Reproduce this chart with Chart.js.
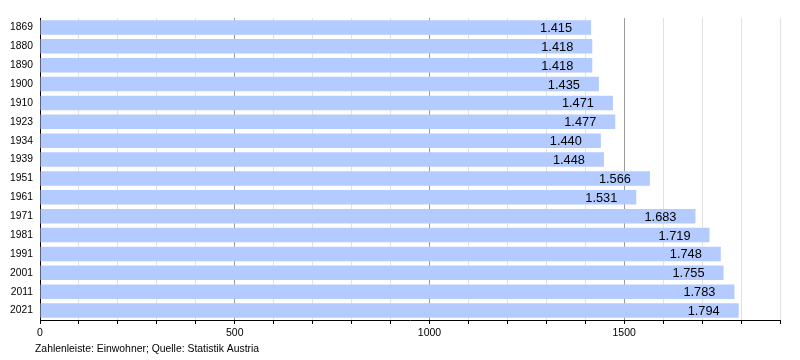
<!DOCTYPE html>
<html>
<head>
<meta charset="utf-8">
<script src="https://cdn.jsdelivr.net/npm/chart.js@4/dist/chart.umd.min.js"></script>
<style>
html,body{margin:0;padding:0;background:#fff;}
#wrap{position:relative;width:800px;height:360px;}
</style>
</head>
<body>
<div id="wrap"><canvas id="c" width="800" height="360"></canvas></div>
<script>
const years = ['1869','1880','1890','1900','1910','1923','1934','1939','1951','1961','1971','1981','1991','2001','2011','2021'];
const population = [1415,1418,1418,1435,1471,1477,1440,1448,1566,1531,1683,1719,1748,1755,1783,1794];
const caption = 'Zahlenleiste: Einwohner; Quelle: Statistik Austria';

function fmt(v){
  const s = String(Math.round(v));
  return s.replace(/\B(?=(\d{3})+(?!\d))/g, '.');
}

const valueLabels = {
  id: 'valueLabels',
  afterDatasetsDraw(chart){
    const ctx = chart.ctx;
    const meta = chart.getDatasetMeta(0);
    ctx.save();
    ctx.font = '12.8px "Liberation Sans", Arial, sans-serif';
    ctx.fillStyle = '#000';
    ctx.textAlign = 'right';
    ctx.textBaseline = 'middle';
    meta.data.forEach((bar, i) => {
      ctx.fillText(fmt(population[i]), bar.x - 19, bar.y + 1);
    });
    ctx.restore();
  }
};

const captionPlugin = {
  id: 'captionPlugin',
  afterDraw(chart){
    const ctx = chart.ctx;
    ctx.save();
    ctx.font = '10.4px "Liberation Sans", Arial, sans-serif';
    ctx.fillStyle = '#000';
    ctx.textAlign = 'left';
    ctx.textBaseline = 'middle';
    ctx.fillText(caption, 35, 349);
    ctx.restore();
  }
};

new Chart(document.getElementById('c'), {
  type: 'bar',
  data: {
    labels: years,
    datasets: [{
      data: population,
      backgroundColor: 'rgb(179,203,255)',
      borderWidth: 0,
      barPercentage: 0.77,
      categoryPercentage: 1.0
    }]
  },
  options: {
    indexAxis: 'y',
    responsive: false,
    animation: false,
    events: [],
    layout: { padding: { top: 18, right: 20, left: 0, bottom: 0 } },
    plugins: { legend: { display: false }, tooltip: { enabled: false }, title: { display: false } },
    scales: {
      x: {
        min: 0, max: 1900,
        afterFit(s){ s.height = 40; },
        ticks: {
          stepSize: 100,
          autoSkip: false,
          maxRotation: 0,
          padding: 3,
          color: '#000',
          font: { size: 10.5, family: '"Liberation Sans", Arial, sans-serif' },
          callback: (v) => (v % 500 === 0 ? String(v) : '')
        },
        grid: {
          color: (c) => (c.tick && c.tick.value % 500 === 0 ? '#9a9a9a' : '#e2e2e2'),
          lineWidth: 1,
          tickColor: '#000',
          tickLength: 4,
          drawTicks: true
        },
        border: { color: '#000', width: 1 }
      },
      y: {
        z: 1,
        afterFit(s){ s.width = 40; },
        ticks: {
          color: '#000',
          padding: 7,
          font: { size: 10.3, family: '"Liberation Sans", Arial, sans-serif' }
        },
        grid: { display: false, drawTicks: false },
        border: { color: '#000', width: 1 }
      }
    }
  },
  plugins: [valueLabels, captionPlugin]
});
</script>
</body>
</html>
